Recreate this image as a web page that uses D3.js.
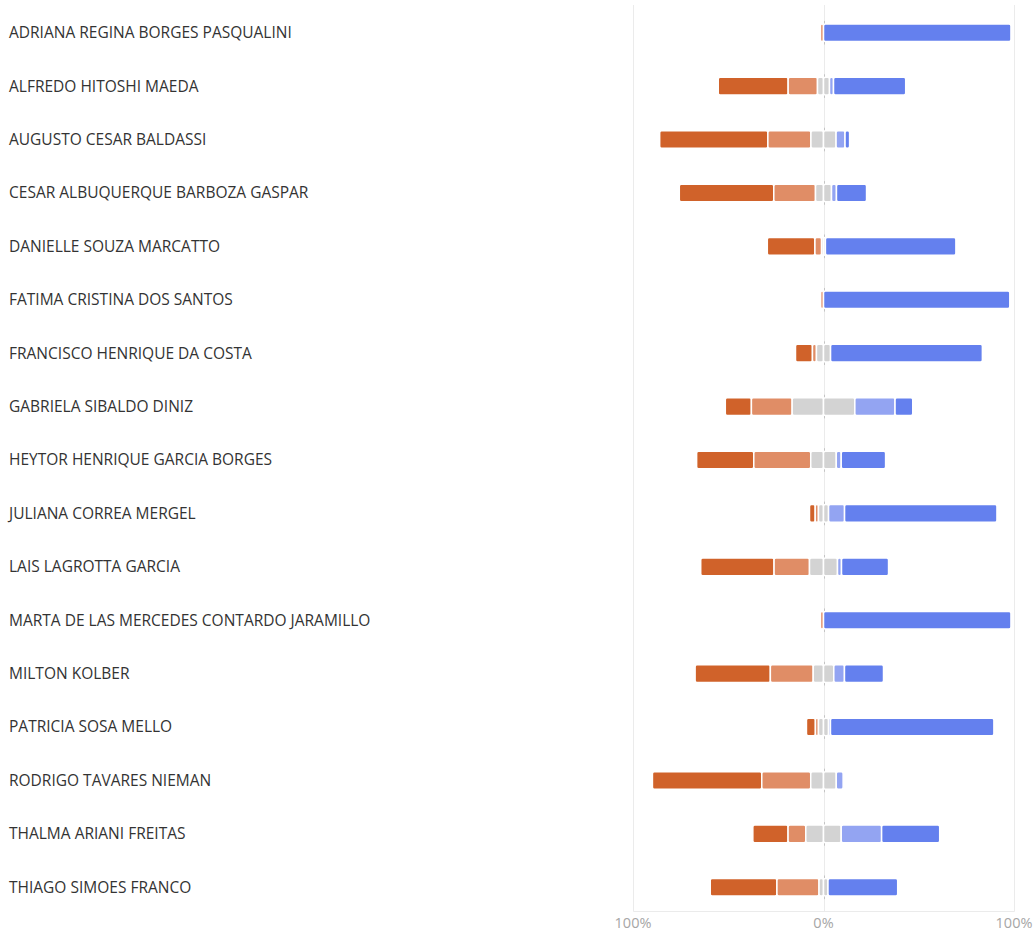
<!DOCTYPE html>
<html>
<head>
<meta charset="utf-8">
<script src="https://cdn.jsdelivr.net/npm/d3@7"></script>
<style>
  body { margin: 0; background: #fff; }
  svg { display: block; }
</style>
</head>
<body>
<div id="chart"></div>
<script>
const names = [
  'ADRIANA REGINA BORGES PASQUALINI',
  'ALFREDO HITOSHI MAEDA',
  'AUGUSTO CESAR BALDASSI',
  'CESAR ALBUQUERQUE BARBOZA GASPAR',
  'DANIELLE SOUZA MARCATTO',
  'FATIMA CRISTINA DOS SANTOS',
  'FRANCISCO HENRIQUE DA COSTA',
  'GABRIELA SIBALDO DINIZ',
  'HEYTOR HENRIQUE GARCIA BORGES',
  'JULIANA CORREA MERGEL',
  'LAIS LAGROTTA GARCIA',
  'MARTA DE LAS MERCEDES CONTARDO JARAMILLO',
  'MILTON KOLBER',
  'PATRICIA SOSA MELLO',
  'RODRIGO TAVARES NIEMAN',
  'THALMA ARIANI FREITAS',
  'THIAGO SIMOES FRANCO'
];

// percent of answers per level, one value per name
const discordoTotal = [0, 36.7, 56.8, 49.6, 25, 0, 8.9, 13.7, 30, 3, 38.5, 0, 39.5, 4.7, 57.4, 18.5, 35];
const discordo = [1.6, 15.4, 22.6, 21.9, 3.5, 1.5, 2.1, 21.4, 29.9, 1.7, 18.6, 1.6, 22.5, 1.6, 25.7, 9.3, 22.1];
const neutro = [0, 6.3, 13.2, 8.4, 2, 0, 7.4, 32.9, 13.4, 5.3, 14.7, 0, 10.8, 5.3, 13.4, 18.6, 4.7];
const concordo = [0, 2.1, 4.7, 2.6, 0, 0, 0, 21.1, 2.6, 8.4, 2.1, 0, 5.6, 1, 3.6, 21.2, 0];
const concordoTotal = [98.4, 37.9, 2.4, 15.8, 68.5, 97.8, 79.7, 9.3, 23.3, 80, 24.7, 98.4, 20.5, 85.8, 0, 30.5, 36.6];

const tickValues = [-100, 0, 100];
const tickLabels = ['100%', '0%', '100%'];

const colors = {
  discordoTotal: '#d0622a',
  discordo: '#e08d66',
  neutroEsq: '#d3d3d3',
  neutroDir: '#d3d3d3',
  concordo: '#93a4f2',
  concordoTotal: '#6480ee'
};

const width = 1035;
const height = 936;

const svg = d3.select('#chart')
  .append('svg')
  .attr('width', width)
  .attr('height', height);

const x = d3.scaleLinear()
  .domain([-100, 100])
  .range([633, 1014]);

const y = d3.scaleBand()
  .domain(names)
  .range([6, 914])
  .paddingInner(0.67)
  .paddingOuter(0.335);

// segments per row, neutral split in two halves around zero
const rows = names.map((name, i) => {
  const parts = [
    ['discordoTotal', discordoTotal[i]],
    ['discordo', discordo[i]],
    ['neutroEsq', neutro[i] / 2],
    ['neutroDir', neutro[i] / 2],
    ['concordo', concordo[i]],
    ['concordoTotal', concordoTotal[i]]
  ];
  let start = -(discordoTotal[i] + discordo[i] + neutro[i] / 2);
  return parts.map(([key, v]) => {
    const seg = { name, key, x0: start, x1: start + v };
    start += v;
    return seg;
  }).filter(s => s.x1 - s.x0 > 0);
});

// grid frame
const grid = svg.append('g').attr('stroke', '#ebebeb').attr('stroke-width', 1);
grid.selectAll('line.v')
  .data(tickValues)
  .join('line')
    .attr('class', 'v')
    .attr('x1', d => Math.round(x(d)) + 0.5)
    .attr('x2', d => Math.round(x(d)) + 0.5)
    .attr('y1', 5)
    .attr('y2', 911.5);
grid.append('line')
  .attr('x1', Math.round(x(-100)) + 0.5)
  .attr('x2', Math.round(x(100)) + 0.5)
  .attr('y1', 911.5)
  .attr('y2', 911.5);

// little zero marks on each row
svg.append('g')
  .attr('stroke', '#c4c4c4')
  .selectAll('line')
  .data(names)
  .join('line')
    .attr('x1', Math.round(x(0)) + 0.5)
    .attr('x2', Math.round(x(0)) + 0.5)
    .attr('y1', d => y(d) - 3)
    .attr('y2', d => y(d) + y.bandwidth() + 3);

svg.append('g')
  .selectAll('g')
  .data(rows)
  .join('g')
  .selectAll('rect')
  .data(d => d)
  .join('rect')
    .attr('x', d => x(d.x0))
    .attr('y', d => y(d.name))
    .attr('width', d => x(d.x1) - x(d.x0))
    .attr('height', y.bandwidth())
    .attr('rx', 2)
    .attr('fill', d => colors[d.key])
    .attr('stroke', '#fff')
    .attr('stroke-width', 1.5);

// names on the left
svg.append('g')
  .selectAll('text')
  .data(names)
  .join('text')
    .attr('x', 9)
    .attr('y', d => y(d) + y.bandwidth() / 2)
    .attr('dy', '0.35em')
    .attr('font-family', '"Open Sans", "Noto Sans", sans-serif')
    .attr('font-size', '15.5px')
    .attr('fill', '#333')
    .text(d => d);

// bottom axis labels
svg.append('g')
  .selectAll('text')
  .data(tickValues)
  .join('text')
    .attr('x', d => x(d))
    .attr('y', 928)
    .attr('text-anchor', 'middle')
    .attr('font-family', '"Open Sans", "Noto Sans", sans-serif')
    .attr('font-size', '14.5px')
    .attr('fill', '#a6a6a6')
    .text((d, i) => tickLabels[i]);
</script>
</body>
</html>
